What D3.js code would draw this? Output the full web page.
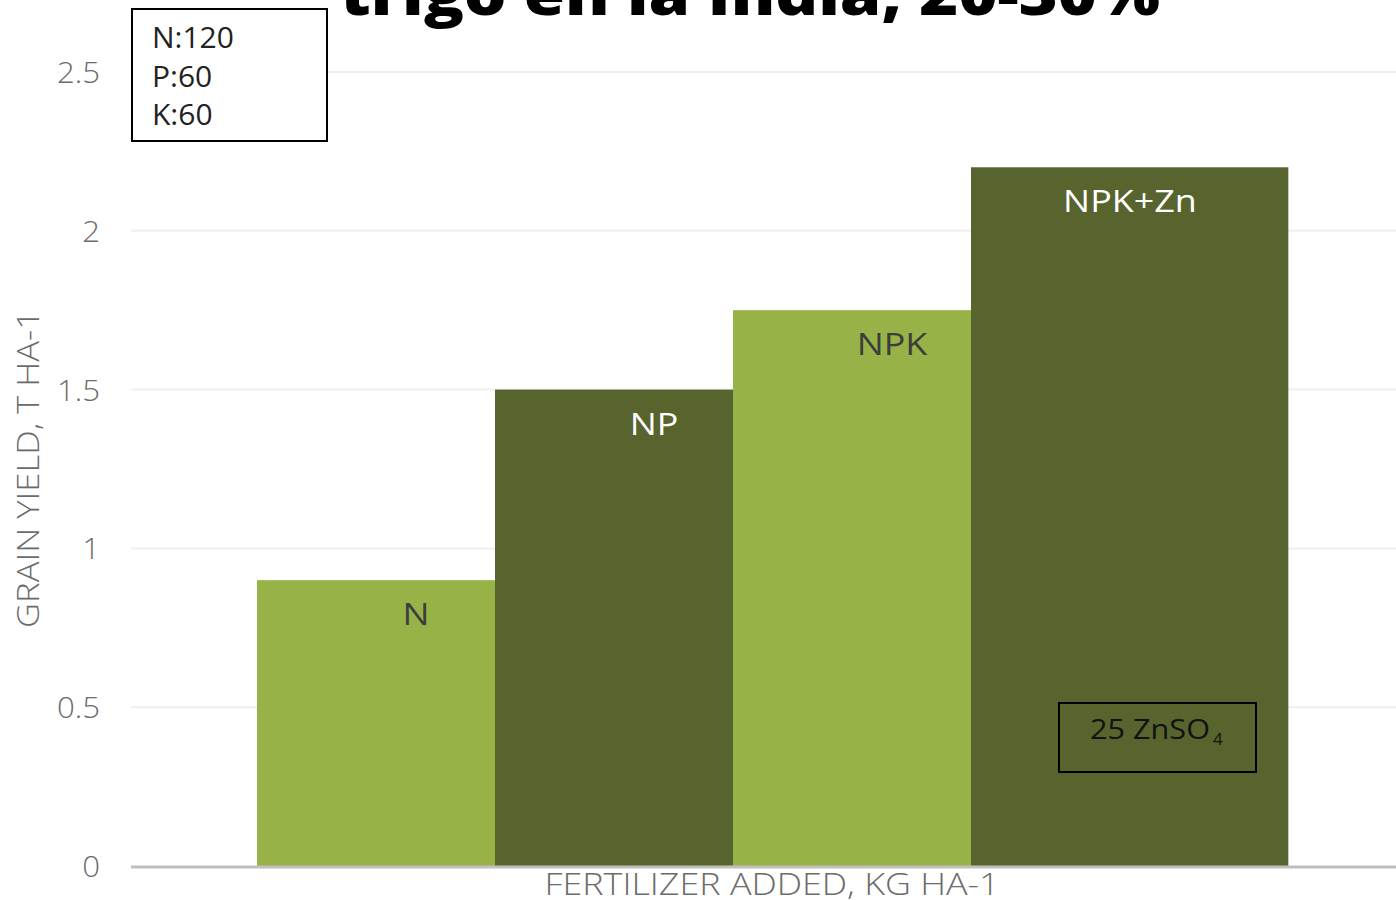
<!DOCTYPE html>
<html><head><meta charset="utf-8">
<script src="https://cdn.jsdelivr.net/npm/d3@7"></script>
<style>
html,body{margin:0;padding:0;background:#fff;}
svg{display:block;}
text{font-family:"Open Sans","Noto Sans",sans-serif;}
</style></head>
<body>
<svg id="chart" width="1396" height="900"></svg>
<script>
const categories = ["N", "NP", "NPK", "NPK+Zn"];
const values = [0.9, 1.5, 1.75, 2.2];
const barColors = ["#97b246", "#58642d", "#97b246", "#58642d"];
const labelColors = ["#3d3d3d", "#ffffff", "#3d3d3d", "#ffffff"];
const yTicks = [0, 0.5, 1, 1.5, 2, 2.5];
const legendLines = ["N:120", "P:60", "K:60"];
const title = "trigo en la India, 20-30%";
const yTitle = "GRAIN YIELD, T HA-1";
const xTitle = "FERTILIZER ADDED, KG HA-1";

const svg = d3.select("#chart");
const mLeft = 131, mRight = 1396, mTop = 72, mBottom = 866;

// stretch a text horizontally by a factor (to mimic a wider typeface)
function widen(sel, factor) {
  sel.each(function () {
    const w = this.getComputedTextLength();
    d3.select(this).attr("textLength", w * factor).attr("lengthAdjust", "spacingAndGlyphs");
  });
}

const y = d3.scaleLinear().domain([0, 2.5]).range([mBottom, mTop]);
const x = d3.scaleBand().domain(categories).range([257, 1209]).paddingInner(0).paddingOuter(0);
const bw = x.bandwidth();
const lastWidthFactor = 4/3;
const widthOf = (d, i) => i === categories.length - 1 ? bw * lastWidthFactor : bw;

// gridlines
svg.append("g").selectAll("line").data(yTicks.filter(t => t > 0)).join("line")
  .attr("x1", mLeft).attr("x2", mRight)
  .attr("y1", d => y(d)).attr("y2", d => y(d))
  .attr("stroke", "#efefef").attr("stroke-width", 2);

// y axis labels
const yAxis = d3.axisLeft(y).tickValues(yTicks).tickSize(0).tickPadding(0).tickFormat(d3.format("~g"));
const yg = svg.append("g").attr("transform", `translate(100,0)`).call(yAxis);
yg.select(".domain").remove();
yg.selectAll("text").attr("font-size", 30).attr("fill", "#6b6b6b").attr("font-weight", 300)
  .attr("font-family", '"Open Sans",sans-serif').attr("dy", "0.35em");
widen(yg.selectAll("text"), 1.04);

// bars
svg.append("g").selectAll("rect").data(values).join("rect")
  .attr("x", (d, i) => x(categories[i]))
  .attr("y", d => y(d))
  .attr("width", (d, i) => widthOf(d, i))
  .attr("height", d => mBottom - y(d))
  .attr("fill", (d, i) => barColors[i]);

// bar labels
const bl = svg.append("g").selectAll("text").data(values).join("text")
  .attr("x", (d, i) => x(categories[i]) + bw / 2 + 40)
  .attr("y", d => y(d) + 45)
  .attr("text-anchor", "middle")
  .attr("font-size", 31.5)
  .attr("fill", (d, i) => labelColors[i])
  .text((d, i) => categories[i]);
widen(bl, 1.14);

// baseline
svg.append("line").attr("x1", mLeft).attr("x2", mRight)
  .attr("y1", y(0) + 1).attr("y2", y(0) + 1)
  .attr("stroke", "#bfbfbf").attr("stroke-width", 3);

// axis titles
const xt = svg.append("text").attr("x", 772).attr("y", 895).attr("text-anchor", "middle")
  .attr("font-size", 31).attr("font-weight", 300).attr("fill", "#6b6b6b").text(xTitle);
xt.attr("textLength", 455).attr("lengthAdjust", "spacingAndGlyphs");
const ytl = svg.append("text").attr("transform", "translate(39,469) rotate(-90)").attr("text-anchor", "middle")
  .attr("font-size", 31).attr("font-weight", 300).attr("fill", "#6b6b6b").text(yTitle);
ytl.attr("textLength", 318).attr("lengthAdjust", "spacingAndGlyphs");

// title (clipped at top)
svg.append("text").attr("x", 750).attr("y", 15).attr("text-anchor", "middle")
  .attr("font-size", 58).attr("font-weight", 800).attr("fill", "#000")
  .attr("font-family", '"Open Sans",sans-serif')
  .attr("textLength", 820).attr("lengthAdjust", "spacingAndGlyphs")
  .text(title);

// legend box
svg.append("rect").attr("x", 132).attr("y", 9).attr("width", 195).attr("height", 132)
  .attr("fill", "#fff").attr("stroke", "#000").attr("stroke-width", 2);
svg.append("g").selectAll("text").data(legendLines).join("text")
  .attr("x", 152).attr("y", (d, i) => 48 + i * 38.5)
  .attr("font-size", 30).attr("fill", "#222").text(d => d);

// ZnSO4 box
svg.append("rect").attr("x", 1059).attr("y", 703).attr("width", 197).attr("height", 69)
  .attr("fill", "none").attr("stroke", "#000").attr("stroke-width", 2);
const zt = svg.append("text").attr("x", 1090).attr("y", 739).attr("font-size", 28).attr("fill", "#111");
zt.append("tspan").text("25 ZnSO").attr("textLength", 120).attr("lengthAdjust", "spacingAndGlyphs");
zt.append("tspan").attr("font-size", 17).attr("dx", 3).attr("dy", 6).text("4");
</script>
</body></html>
